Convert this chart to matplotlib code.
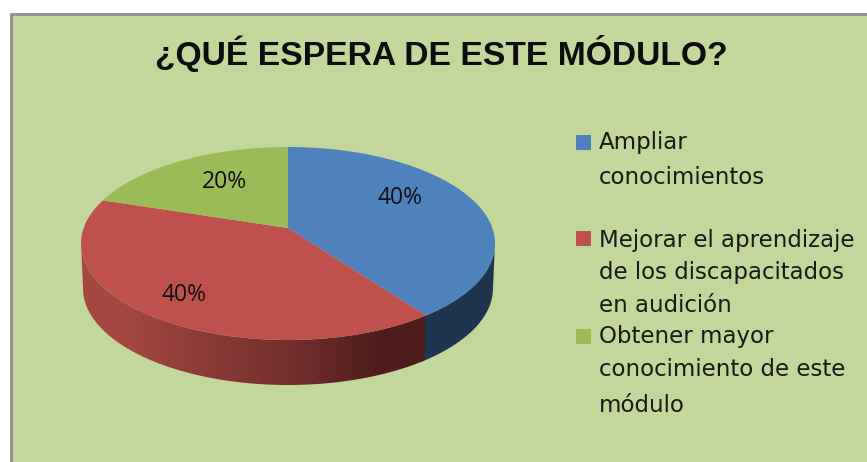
import matplotlib
matplotlib.use("Agg")
import matplotlib.pyplot as plt
import numpy as np
from matplotlib.patches import Polygon, Rectangle

title = "¿QUÉ ESPERA DE ESTE MÓDULO?"
values = [40, 40, 20]
pct_labels = ["40%", "40%", "20%"]
colors = ["#4f81bd", "#c0504d", "#9bbb59"]
legend_groups = [
    ["Ampliar", "conocimientos"],
    ["Mejorar el aprendizaje", "de los discapacitados", "en audición"],
    ["Obtener mayor", "conocimiento de este", "módulo"],
]

# pie geometry in pixels, tilt pushes the apex above the ellipse centre
cx, cy, rx, ry = 288, 243.5, 207, 96.5
tilt = 0.16
depth = 45


def project(theta, r=1.0, dy=0.0, shrink=1.0):
    u = r * np.cos(theta)
    v = r * np.sin(theta)
    w = 1 + tilt * v
    x = cx + shrink * rx * u * np.sqrt(1 - tilt ** 2) / w
    y = cy - ry * (v + tilt) / w + dy
    return x, y


def side(a0, a1):
    t = np.linspace(a0, a1, 100)
    xt, yt = project(t)
    xb, yb = project(t[::-1], dy=depth, shrink=0.99)
    return np.column_stack([np.r_[xt, xb], np.r_[yt, yb]])


fig, ax = plt.subplots(figsize=(8.67, 4.62), dpi=100)
ax.set_position([0, 0, 1, 1])
ax.set_xlim(0, 867)
ax.set_ylim(462, 0)
ax.axis("off")

ax.add_patch(Rectangle((11, 14), 870, 460, fc="#c3d69b", ec="#8f8f8f", lw=2))
ax.text(441, 54, title, ha="center", va="center", fontsize=24.2,
        fontweight="bold", family="Liberation Sans", color="#0d0d0d")

# wedge angles, clockwise from 12 o'clock
shares = np.array(values) / sum(values)
edges = np.pi / 2 - 2 * np.pi * np.r_[0, np.cumsum(shares)]

# side walls, blue runs a little under the red so no seam shows
low = -np.arcsin(tilt)
blue_side = side(edges[1] - 0.02, low)
ax.add_patch(Polygon(blue_side, fc="#1f344f", ec="none", zorder=1.9))

red_side = side(-np.pi - low, edges[1])
red_poly = Polygon(red_side, fc="none", ec="none", zorder=2)
ax.add_patch(red_poly)
ramp = np.array([[[165, 72, 66], [138, 58, 54], [112, 46, 44], [78, 28, 28]]],
                dtype=np.uint8)
img = ax.imshow(ramp, extent=[81, 425, 386, 240], aspect="auto",
                interpolation="bilinear", zorder=2)
img.set_clip_path(red_poly)
ax.set_xlim(0, 867)
ax.set_ylim(462, 0)

# top faces
for i, c in enumerate(colors):
    t = np.linspace(edges[i], edges[i + 1], 150)
    x, y = project(t)
    x0, y0 = project(0.0, r=0.0)
    pts = np.column_stack([np.r_[x0, x], np.r_[y0, y]])
    ax.add_patch(Polygon(pts, fc=c, ec="none", zorder=3))

pct_pos = [(400, 198), (184, 295), (224, 182)]
for s, (px, py) in zip(pct_labels, pct_pos):
    ax.text(px, py, s, ha="center", va="center", fontsize=16.5,
            family="Open Sans", color="#111111", zorder=4)

# legend
line_y = [[142, 177], [240, 273, 306], [337, 370, 405]]
swatch_y = [142, 238, 336]
for group, ys, sy, c in zip(legend_groups, line_y, swatch_y, colors):
    ax.add_patch(Rectangle((576, sy - 7.5), 15, 15, fc=c, ec="none"))
    for s, ly in zip(group, ys):
        ax.text(599, ly, s, ha="left", va="center", fontsize=16.5,
                family="DejaVu Sans", color="#1a1a1a")

fig.savefig("out.png", dpi=100)
